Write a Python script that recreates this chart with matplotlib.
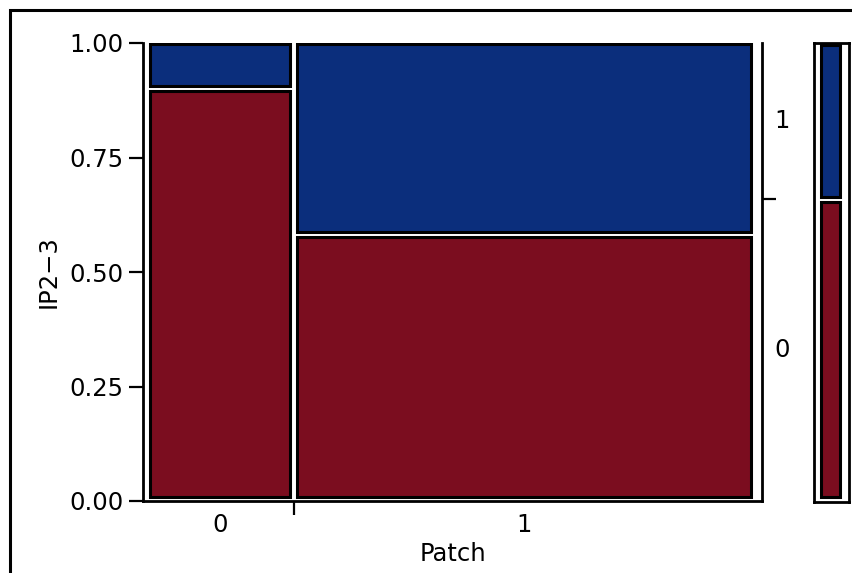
"""Mosaic plot: IP2-3 by Patch (JMP style)."""
import matplotlib
matplotlib.use("Agg")
import matplotlib.pyplot as plt
from matplotlib.patches import Rectangle

patch_levels = ["0", "1"]
patch_share = [0.242, 0.758]
ip_levels = ["0", "1"]
ip_share_by_patch = [[0.900, 0.100], [0.582, 0.418]]
ip_colors = ["#7B0D1F", "#0B2E7C"]

W, H = 853, 573
fig = plt.figure(figsize=(W / 100, H / 100), dpi=100)
fig.patch.set_facecolor("white")
plt.rcParams["font.family"] = ["DejaVu Sans"]
fs = 17.5

def fx(px):
    return px / W

def fy(py):
    return 1 - py / H

# outer frame
fig.add_artist(Rectangle((fx(10), -0.1), 1.2, fy(10) + 0.1, transform=fig.transFigure,
                         fill=False, lw=2.2, ec="black"))

ax = fig.add_axes([fx(143), fy(501), fx(762) - fx(143), fy(43) - fy(501)])
ax.set_xlim(-0.006, 1.012)
ax.set_ylim(0, 1)

gx = 0.0055  # half gap in x (data units)
gy = 0.0055  # half gap in y
x0 = 0.0
centers = []
for i, share in enumerate(patch_share):
    y0 = 0.0
    for j, frac in enumerate(ip_share_by_patch[i]):
        bottom = y0 + (gy if j > 0 else 0.008)
        top = y0 + frac - (gy if j < len(ip_levels) - 1 else 0.002)
        ax.add_patch(Rectangle((x0 + gx, bottom), share - 2 * gx, top - bottom,
                               facecolor=ip_colors[j], edgecolor="black", lw=2.2))
        y0 += frac
    centers.append(x0 + share / 2)
    x0 += share

ax.spines["top"].set_visible(False)
for s in ["left", "bottom", "right"]:
    ax.spines[s].set_linewidth(2)

ax.set_yticks([0, 0.25, 0.5, 0.75, 1.0])
ax.set_yticklabels(["0.00", "0.25", "0.50", "0.75", "1.00"], fontsize=fs)
ax.tick_params(axis="y", direction="out", length=10, width=1.6, pad=4)

ax.set_xticks(centers)
ax.set_xticklabels(patch_levels, fontsize=fs)
ax.set_xticks([patch_share[0]], minor=True)
ax.tick_params(axis="x", which="major", length=0, pad=9)
ax.tick_params(axis="x", which="minor", direction="out", length=10, width=1.6)
ax.set_xlabel("Patch", fontsize=fs, labelpad=3)
ax.set_ylabel("IP2\u22123", fontsize=fs, labelpad=6)

# overall IP shares for the marginal bar
overall = [sum(patch_share[i] * ip_share_by_patch[i][j] for i in range(len(patch_share)))
           for j in range(len(ip_levels))]

ax2 = ax.twinx()
ax2.set_ylim(0, 1)
ax2.set_yticks([overall[0]])
ax2.set_yticklabels([""])
ax2.tick_params(axis="y", direction="out", length=10, width=1.6)
for s in ["top", "left", "bottom", "right"]:
    ax2.spines[s].set_visible(False)
yc = 0
for j, frac in enumerate(overall):
    ax2.text(1.0 + 12 / 619, yc + frac / 2, ip_levels[j], transform=ax2.transAxes,
             ha="left", va="center", fontsize=fs)
    yc += frac

# marginal bar
axm = fig.add_axes([fx(814), fy(502), fx(849) - fx(814), fy(43) - fy(502)])
axm.set_xlim(0, 1)
axm.set_ylim(0, 1)
axm.set_xticks([])
axm.set_yticks([])
for s in axm.spines.values():
    s.set_linewidth(2)
y0 = 0.0
for j, frac in enumerate(overall):
    bottom = y0 + (gy if j > 0 else 0.01)
    top = y0 + frac - (gy if j < len(ip_levels) - 1 else 0.004)
    axm.add_patch(Rectangle((0.2, bottom), 0.54, top - bottom,
                            facecolor=ip_colors[j], edgecolor="black", lw=2.2))
    y0 += frac

fig.savefig("out.png", dpi=100, facecolor="white")
